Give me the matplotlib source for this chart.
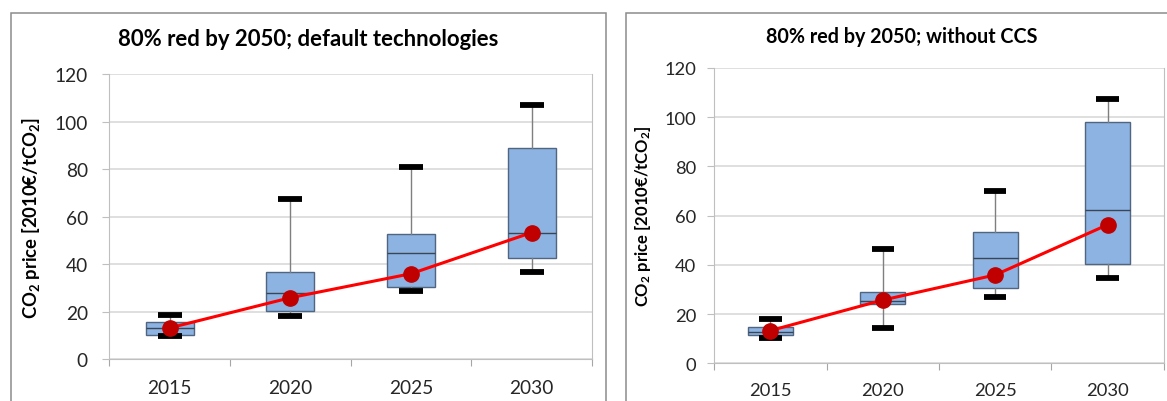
import matplotlib
matplotlib.use("Agg")
import matplotlib.pyplot as plt
from matplotlib.patches import Rectangle

# ===========================
# Data
# ===========================
years = ["2015", "2020", "2025", "2030"]

# left panel: default technologies
left_whislo = [9.9, 18.2, 28.8, 36.9]
left_q1 = [10.2, 20.5, 30.3, 42.6]
left_med = [13.0, 27.8, 44.6, 53.0]
left_q3 = [15.7, 36.8, 52.9, 88.8]
left_whishi = [18.5, 67.4, 80.8, 106.9]
left_mean = [13.2, 25.9, 36.0, 53.3]

# right panel: without CCS
right_whislo = [10.3, 14.5, 27.1, 34.7]
right_q1 = [11.5, 24.2, 30.7, 40.2]
right_med = [12.8, 25.4, 42.8, 62.2]
right_q3 = [14.6, 29.0, 53.4, 98.2]
right_whishi = [17.9, 46.3, 69.9, 107.5]
right_mean = [13.3, 25.7, 35.9, 56.3]

W, H = 1167, 402
FONT = ["Lato", "DejaVu Sans"]
plt.rcParams["font.family"] = FONT
plt.rcParams["mathtext.default"] = "regular"


def make_stats(whislo, q1, med, q3, whishi):
    return [dict(whislo=a, q1=b, med=c, q3=d, whishi=e, fliers=[])
            for a, b, c, d, e in zip(whislo, q1, med, q3, whishi)]


def draw_panel(ax, stats, means, tick_size, label_size, xpad, ypad, label_x):
    pos = list(range(1, len(years) + 1))
    ax.bxp(stats, positions=pos, widths=0.4, capwidths=0.2,
           patch_artist=True, showfliers=False, manage_ticks=False,
           boxprops=dict(facecolor="#8DB3E2", edgecolor="#4F6580", linewidth=1.0),
           medianprops=dict(color="#3A4656", linewidth=1.0),
           whiskerprops=dict(color="#7F7F7F", linewidth=1.0),
           capprops=dict(color="black", linewidth=4.2, solid_capstyle="butt"))
    ax.plot(pos, means, color="#FF0000", linewidth=2.2, zorder=4)
    ax.plot(pos, means, "o", color="#C00000", markersize=11, zorder=5)

    ax.set_xlim(0.5, len(years) + 0.5)
    ax.set_ylim(0, 120)
    ax.set_yticks(range(0, 121, 20))
    ax.grid(axis="y", color="#D9D9D9", linewidth=1.2)
    ax.set_axisbelow(True)

    # category boundaries as major ticks, labels on minor ticks
    ax.set_xticks([p - 0.5 for p in pos] + [pos[-1] + 0.5])
    ax.set_xticklabels([])
    ax.set_xticks(pos, minor=True)
    ax.set_xticklabels(years, minor=True)
    ax.tick_params(axis="x", which="major", length=5, color="#A6A6A6", direction="out")
    ax.tick_params(axis="x", which="minor", length=0, pad=xpad,
                   labelsize=tick_size, labelcolor="#262626")
    ax.tick_params(axis="y", length=5, color="#BFBFBF", direction="out", pad=ypad,
                   labelsize=tick_size, labelcolor="#262626")
    for s in ax.spines.values():
        s.set_color("#BFBFBF")
    ax.spines["top"].set_visible(False)

    ax.set_ylabel("CO$_2$ price [2010€/tCO$_2$]", fontsize=label_size,
                  fontweight="bold", color="black")
    ax.yaxis.set_label_coords(label_x, 0.5)


fig = plt.figure(figsize=(W / 100, H / 100), dpi=100)

# chart frames (bottom edge lies outside the picture)
for x0, x1 in [(10.7, 606), (626, 1190)]:
    fig.add_artist(Rectangle((x0 / W, -0.2), (x1 - x0) / W, 1.2 - 14 / H,
                             transform=fig.transFigure, fill=False,
                             edgecolor="#8C8C8C", linewidth=1.1))

ax1 = fig.add_axes([109.3 / W, 1 - 360.3 / H, 482.7 / W, 285.3 / H])
draw_panel(ax1, make_stats(left_whislo, left_q1, left_med, left_q3, left_whishi),
           left_mean, tick_size=13.8, label_size=13.3, xpad=14.5, ypad=10.5, label_x=-0.14)

ax2 = fig.add_axes([714.3 / W, 1 - 364.3 / H, 449.4 / W, 295.3 / H])
draw_panel(ax2, make_stats(right_whislo, right_q1, right_med, right_q3, right_whishi),
           right_mean, tick_size=13.2, label_size=12, xpad=13.5, ypad=8, label_x=-0.136)

fig.text(308 / W, 1 - 39 / H, "80% red by 2050; default technologies",
         ha="center", va="center", fontsize=15.9, fontweight="bold")
fig.text(901.5 / W, 1 - 37 / H, "80% red by 2050; without CCS",
         ha="center", va="center", fontsize=14.2, fontweight="bold")

fig.savefig("out.png", dpi=100)
